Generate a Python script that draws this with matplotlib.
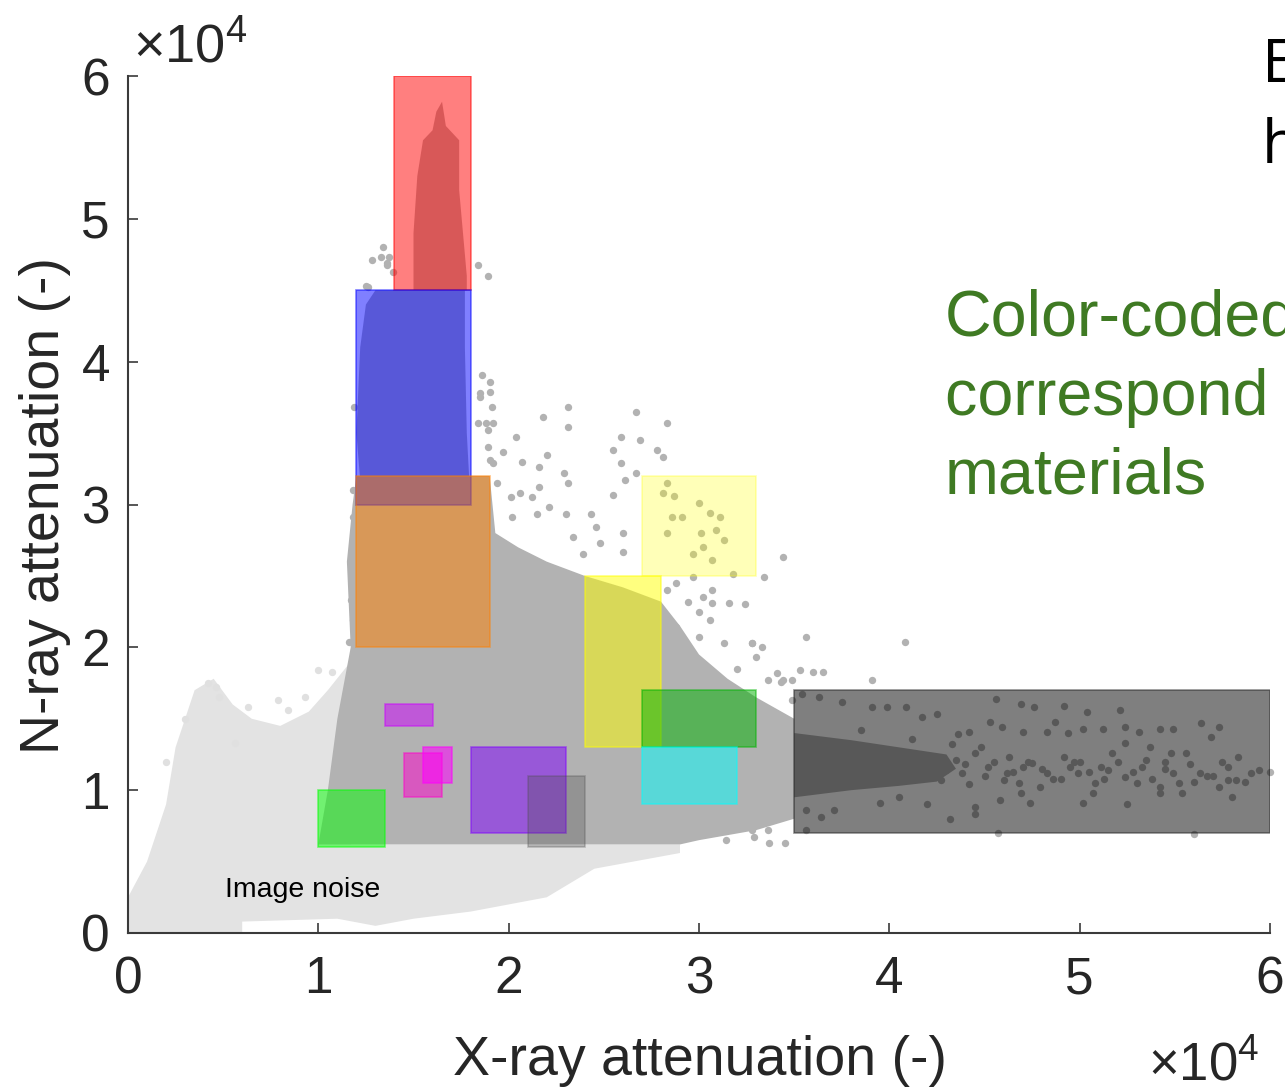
import matplotlib
matplotlib.use("Agg")
import matplotlib.pyplot as plt
import numpy as np

plt.rcParams['font.family'] = ['Liberation Sans', 'DejaVu Sans']
plt.rcParams['mathtext.fontset'] = 'custom'
plt.rcParams['mathtext.rm'] = 'Liberation Sans'
plt.rcParams['mathtext.it'] = 'Liberation Sans:italic'

SCALE = 1e4  # axis values are shown in units of 10^4

# ---- dense point clouds, outlined (x, y in units of 1e4) ----
noise_x = [0, 0, 0.1, 0.2, 0.25, 0.35, 0.45, 0.55, 0.65, 0.8, 0.95, 1.05, 1.17, 1.17,
           2.9, 2.9, 2.45, 2.2, 1.8, 1.5, 1.3, 1.1, 0.6, 0.6]
noise_y = [0, 0.25, 0.5, 0.9, 1.3, 1.7, 1.78, 1.6, 1.5, 1.45, 1.55, 1.7, 1.9, 0.62,
           0.62, 0.56, 0.45, 0.25, 0.15, 0.1, 0.05, 0.1, 0.08, 0]

dense_x = [1.0, 1.05, 1.1, 1.17, 1.15, 1.18, 1.2, 1.9, 1.93, 2.05, 2.2, 2.4, 2.6, 2.8,
           2.9, 3.0, 3.15, 3.3, 3.5, 3.5, 3.3, 3.0, 2.9, 1.0]
dense_y = [0.62, 1.0, 1.5, 2.0, 2.6, 3.0, 3.2, 3.2, 2.8, 2.7, 2.6, 2.5, 2.42, 2.32,
           2.15, 1.95, 1.78, 1.65, 1.5, 0.8, 0.72, 0.65, 0.62, 0.62]

red_core_x = [1.5, 1.5, 1.52, 1.55, 1.6, 1.62, 1.65, 1.67, 1.74, 1.74, 1.76, 1.78, 1.78]
red_core_y = [4.5, 4.9, 5.3, 5.55, 5.62, 5.75, 5.82, 5.65, 5.55, 5.2, 4.9, 4.6, 4.5]

blue_core_x = [1.23, 1.2, 1.22, 1.25, 1.3, 1.77, 1.77, 1.78, 1.8]
blue_core_y = [3.0, 3.5, 4.1, 4.4, 4.5, 4.5, 4.1, 3.5, 3.0]

band_x = [3.3, 3.5, 3.8, 4.05, 4.25, 4.35, 4.3, 4.05, 3.8, 3.5, 3.3]
band_y = [0.95, 0.95, 1.0, 1.03, 1.06, 1.15, 1.25, 1.3, 1.35, 1.4, 1.38]

# ---- scattered points ----
light_pts_x = [0.42, 0.46, 0.48, 0.63, 0.79, 0.84, 0.93, 1.0, 1.07, 0.56, 0.3, 0.2]
light_pts_y = [1.75, 1.72, 1.65, 1.58, 1.63, 1.56, 1.65, 1.84, 1.83, 1.33, 1.5, 1.2]

top_pts_x = [1.34, 1.33, 1.37, 1.28, 1.36, 1.39, 1.26, 1.84, 1.89, 1.36, 1.25,
             1.86, 1.9, 1.85, 1.9, 1.85, 1.91, 1.84, 1.88, 1.92, 1.89, 1.89, 1.9, 1.92,
             1.94, 1.18, 1.18, 1.18, 1.17, 1.18, 1.16, 1.19]
top_pts_y = [4.8, 4.73, 4.73, 4.71, 4.69, 4.63, 4.52, 4.68, 4.6, 4.68, 4.53,
             3.91, 3.86, 3.78, 3.79, 3.75, 3.68, 3.57, 3.57, 3.57, 3.52, 3.4, 3.31, 3.29,
             3.15, 3.1, 2.91, 2.7, 2.33, 2.19, 2.04, 3.68]

mid_pts_x = [2.67, 2.83, 2.59, 2.69, 2.55, 2.78, 2.81, 2.59, 2.67, 2.61, 2.55,
             2.31, 2.31, 2.18, 2.04, 1.97, 2.07, 2.2, 2.16, 2.29, 2.31, 2.16, 2.06, 2.01,
             2.12, 2.02, 2.15, 2.21, 2.3, 2.43, 2.46, 2.6, 2.34, 2.48, 2.39, 2.6, 3.44,
             2.83, 2.94, 3.02, 3.07, 3.16, 3.24, 3.34, 3.18, 2.97, 2.88, 3.07, 3.0, 3.06,
             2.88, 3.28, 3.13, 3.0,
             3.0, 3.06, 3.11, 2.91, 2.86, 3.09, 3.01, 2.83, 3.13, 3.02, 2.97, 3.07, 2.81,
             2.87, 2.83]
mid_pts_y = [3.65, 3.57, 3.47, 3.45, 3.38, 3.38, 3.33, 3.29, 3.22, 3.17, 3.07,
             3.68, 3.54, 3.61, 3.47, 3.37, 3.3, 3.35, 3.26, 3.22, 3.15, 3.12, 3.08, 3.05,
             3.05, 2.91, 2.93, 2.98, 2.93, 2.93, 2.84, 2.8, 2.77, 2.73, 2.65, 2.67, 2.63,
             2.4, 2.32, 2.35, 2.31, 2.31, 2.3, 2.49, 2.51, 2.49, 2.45, 2.4, 2.25, 2.19,
             2.14, 2.03, 2.03, 2.07,
             3.01, 2.94, 2.91, 2.91, 2.91, 2.82, 2.8, 2.8, 2.75, 2.7, 2.65, 2.61, 3.08,
             3.06, 3.15]

right_pts_x = [3.28, 3.3, 3.44, 3.49, 3.14, 3.28, 3.37, 3.56, 4.08, 3.33, 3.41, 3.53,
               3.6, 3.65, 3.49, 3.91, 3.43, 3.36, 3.3, 3.42, 3.36, 3.29, 3.45, 3.2]
right_pts_y = [2.03, 1.93, 1.77, 1.63, 0.65, 0.72, 0.63, 2.07, 2.04, 2.0, 1.82, 1.84,
               1.83, 1.83, 1.77, 1.77, 1.76, 1.77, 0.84, 0.83, 0.72, 0.67, 0.63, 1.85]

dark_pts_x = [4.56, 4.69, 4.76, 4.92, 5.04, 5.21, 5.64, 5.73, 5.69, 5.49, 5.42, 5.31,
              5.24, 5.12, 5.02, 4.94, 4.83, 4.87, 4.7, 4.59, 4.53, 4.42, 4.36, 4.25,
              4.17, 4.09, 3.99, 3.91, 3.75, 3.63, 3.54,
              3.56, 3.71, 3.64, 3.56, 3.95, 4.05, 4.2, 4.32, 4.45, 4.45, 4.58, 4.74, 5.02,
              5.25, 5.8, 5.54, 5.42, 5.07, 4.69, 4.57, 5.6,
              5.83, 5.94, 6.0, 5.87, 5.78, 5.73, 5.63, 5.49, 5.42, 5.48, 5.33, 5.24, 5.17,
              5.11, 4.99, 4.92, 4.83, 4.79, 4.7, 4.63, 4.6, 4.52, 4.45, 4.38, 4.35, 4.27,
              4.22, 5.08, 5.37, 5.56, 5.24, 4.4, 4.5, 4.65, 4.75, 4.9, 5.0, 5.15, 5.3,
              5.45, 5.6, 5.7, 5.78, 4.3, 4.55, 4.95, 5.35,
              4.62, 4.68, 4.73, 4.8, 4.86, 4.97, 5.05, 5.13, 5.2, 5.28, 5.38, 5.45, 5.52,
              5.58, 5.67, 5.75, 5.82, 5.9, 4.42, 4.48, 4.33, 4.12, 3.85]
dark_pts_y = [1.64, 1.6, 1.58, 1.59, 1.55, 1.56, 1.47, 1.44, 1.37, 1.43, 1.43, 1.41,
              1.44, 1.43, 1.43, 1.4, 1.41, 1.48, 1.41, 1.44, 1.48, 1.41, 1.39, 1.53,
              1.51, 1.58, 1.58, 1.58, 1.62, 1.65, 1.67,
              0.86, 0.86, 0.81, 0.72, 0.91, 0.95, 0.9, 0.8, 0.83, 0.88, 0.93, 0.91, 0.91,
              0.9, 0.95, 0.98, 0.98, 0.98, 0.98, 0.7, 0.69,
              1.23, 1.14, 1.13, 1.06, 1.16, 1.02, 1.12, 1.12, 1.02, 1.26, 1.16, 1.09, 1.26,
              1.16, 1.12, 1.23, 1.12, 1.02, 1.16, 1.23, 1.07, 1.16, 1.26, 1.12, 1.21, 1.07,
              1.16, 1.05, 1.3, 1.26, 1.33, 1.18, 1.1, 1.13, 1.19, 1.08, 1.2, 1.14, 1.05,
              1.15, 1.06, 1.1, 1.07, 1.14, 1.2, 1.16, 1.21,
              1.12, 1.05, 1.2, 1.15, 1.08, 1.2, 1.13, 1.08, 1.2, 1.13, 1.08, 1.2, 1.05,
              1.18, 1.1, 1.2, 1.07, 1.12, 1.04, 1.3, 1.32, 1.36, 1.42]

# ---- material boxes: x0, x1, y0, y1 (units of 1e4), colour, alpha ----
box_x0 = [1.4, 1.2, 1.2, 2.7, 2.4, 2.7, 2.7, 3.5, 1.0, 1.35, 1.45, 1.55, 1.8, 2.1]
box_x1 = [1.8, 1.8, 1.9, 3.3, 2.8, 3.3, 3.2, 6.0, 1.35, 1.6, 1.65, 1.7, 2.3, 2.4]
box_y0 = [4.5, 3.0, 2.0, 2.5, 1.3, 1.3, 0.9, 0.7, 0.6, 1.45, 0.95, 1.05, 0.7, 0.6]
box_y1 = [6.0, 4.5, 3.2, 3.2, 2.5, 1.7, 1.3, 1.7, 1.0, 1.6, 1.26, 1.3, 1.3, 1.1]
box_colors = ['#ff0000', '#0000ff', '#ff8000', '#ffff00', '#ffff00', '#00b300',
              '#00ffff', '#000000', '#00ff00', '#cc00ff', '#ff00cc', '#ff00ff',
              '#8000ff', '#4d4d4d']
box_alpha = [0.5, 0.5, 0.5, 0.28, 0.5, 0.5, 0.5, 0.5, 0.5, 0.5, 0.5, 0.55, 0.5, 0.3]

xticks = [0, 1, 2, 3, 4, 5, 6]
yticks = [0, 1, 2, 3, 4, 5, 6]

W, H = 1285, 1092
fig = plt.figure(figsize=(W / 100, H / 100), dpi=100)
ax = fig.add_axes([128 / W, 159 / H, 1142 / W, 857 / H])

s = lambda v: np.asarray(v) * SCALE

# clouds
ax.fill(s(noise_x), s(noise_y), color='#e3e3e3', lw=0, zorder=1)
ax.scatter(s(light_pts_x), s(light_pts_y), s=28, color='#e0e0e0', lw=0, zorder=1)
ax.fill(s(dense_x), s(dense_y), color='#b2b2b2', lw=0, zorder=2)
ax.fill(s(red_core_x), s(red_core_y), color='#b2b2b2', lw=0, zorder=2)
ax.fill(s(blue_core_x), s(blue_core_y), color='#b2b2b2', lw=0, zorder=2)
ax.fill(s(band_x), s(band_y), color='#b2b2b2', lw=0, zorder=2)
for px, py in [(top_pts_x, top_pts_y), (mid_pts_x, mid_pts_y),
               (right_pts_x, right_pts_y), (dark_pts_x, dark_pts_y)]:
    ax.scatter(s(px), s(py), s=28, color='#b2b2b2', lw=0, zorder=3, clip_on=False)

# boxes
for x0, x1, y0, y1, c, a in zip(box_x0, box_x1, box_y0, box_y1, box_colors, box_alpha):
    edge = '#222222' if c == '#000000' else c
    ax.bar(s(x0), s(y1 - y0), width=s(x1 - x0), bottom=s(y0), align='edge',
           color=c, alpha=a, edgecolor=edge, linewidth=1.2, zorder=4)

ax.set_xlim(0, 6 * SCALE)
ax.set_ylim(0, 6 * SCALE)
ax.set_xticks(s(xticks))
ax.set_yticks(s(yticks))
ax.set_xticklabels([str(t) for t in xticks])
ax.set_yticklabels([str(t) for t in yticks])
for sp in ['top', 'right']:
    ax.spines[sp].set_visible(False)
for sp in ['left', 'bottom']:
    ax.spines[sp].set_color('#3a3a3a')
    ax.spines[sp].set_linewidth(1.5)
    ax.spines[sp].set_zorder(5)
ax.tick_params(axis='both', direction='in', length=7, width=1.2, color='#3a3a3a',
               labelsize=37, labelcolor='#262626')
ax.tick_params(axis='x', pad=16)
ax.tick_params(axis='y', pad=13)

# axis labels and multipliers
fig.text(700 / W, 1 - 1075 / H, 'X-ray attenuation (-)', fontsize=40, color='#262626',
         ha='center', va='baseline')
fig.text(45 / W, 1 - 505 / H, 'N-ray attenuation (-)', fontsize=40, color='#262626',
         ha='center', va='center', rotation=90)
fig.text(133 / W, 1 - 62 / H, r'$\mathregular{\times10^{4}}$', fontsize=39,
         color='#262626', ha='left', va='baseline')
fig.text(1148 / W, 1 - 1080 / H, r'$\mathregular{\times10^{4}}$', fontsize=38,
         color='#262626', ha='left', va='baseline')

ax.text(s(0.51), s(0.25), 'Image noise', fontsize=20.5, color='black',
        ha='left', va='baseline', zorder=6)

# slide text, cut off at the right edge as in the source slide
fig.text(1262 / W, 1 - 82 / H, 'E', fontsize=44, family=['Open Sans', 'DejaVu Sans'],
         color='black', ha='left', va='baseline')
fig.text(1262 / W, 1 - 163 / H, 'h', fontsize=44, family=['Open Sans', 'DejaVu Sans'],
         color='black', ha='left', va='baseline')
green = '#3f7a23'
for txt, yb in [('Color-coded', 336), ('correspond to', 415), ('materials', 494)]:
    fig.text(945 / W, 1 - yb / H, txt, fontsize=46.5, color=green,
             ha='left', va='baseline')

fig.savefig('out.png', dpi=100)
